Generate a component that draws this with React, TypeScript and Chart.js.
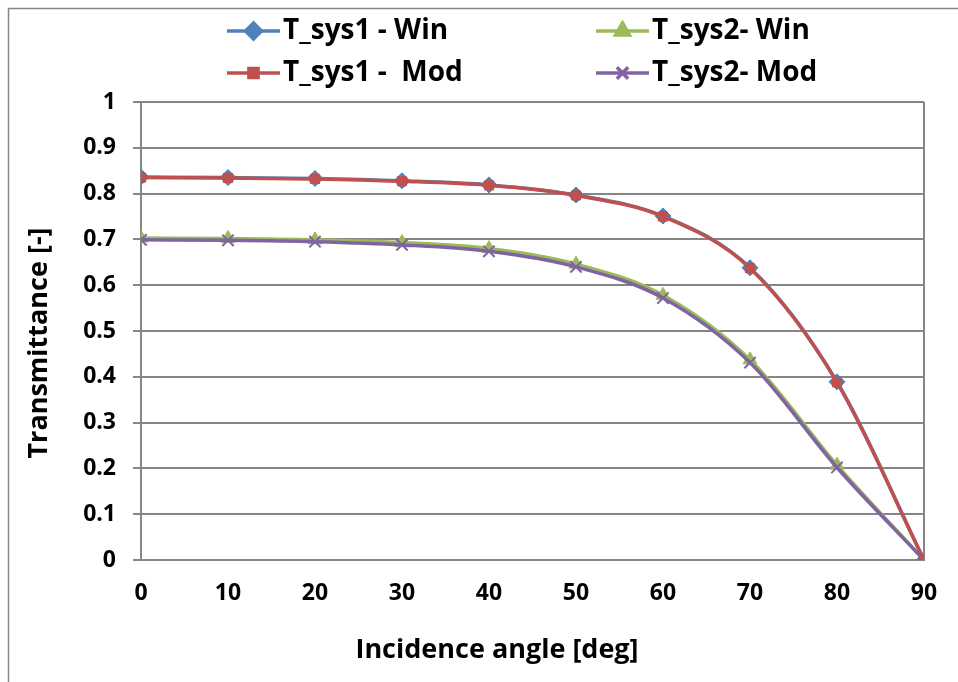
import React, { useEffect, useRef } from 'react';
import { Chart, registerables } from 'chart.js';
import { drawPoint } from 'chart.js/helpers';

Chart.register(...registerables);

const angles = [0, 10, 20, 30, 40, 50, 60, 70, 80, 90];
const sys1Win = [0.836, 0.835, 0.833, 0.828, 0.819, 0.797, 0.751, 0.638, 0.389, 0];
const sys1Mod = [0.835, 0.834, 0.832, 0.827, 0.818, 0.796, 0.750, 0.637, 0.388, 0];
const sys2Win = [0.703, 0.702, 0.699, 0.693, 0.680, 0.646, 0.578, 0.437, 0.207, 0];
const sys2Mod = [0.699, 0.698, 0.695, 0.688, 0.674, 0.640, 0.572, 0.431, 0.202, 0];
const yTickLabels = ['0', '0.1', '0.2', '0.3', '0.4', '0.5', '0.6', '0.7', '0.8', '0.9', '1'];
const seriesNames = ['T_sys1 - Win', 'T_sys2- Win', 'T_sys1 -  Mod', 'T_sys2- Mod'];
const xTitle = 'Incidence angle [deg]';
const yTitle = 'Transmittance [-]';

const FONT = '"Open Sans", Lato, sans-serif';
const GRID = '#868686';

const toPts = (vals: number[]) => angles.map((a, i) => ({ x: a, y: vals[i] }));

const framePlugin = {
  id: 'frame',
  beforeDraw(chart: any) {
    const { ctx } = chart;
    ctx.save();
    ctx.fillStyle = '#ffffff';
    ctx.fillRect(0, 0, chart.width, chart.height);
    ctx.strokeStyle = GRID;
    ctx.lineWidth = 1.5;
    ctx.strokeRect(8.5, 8.5, chart.width + 20, chart.height + 20);
    ctx.restore();
  },
  beforeDatasetsDraw(chart: any) {
    const { ctx, chartArea } = chart;
    ctx.save();
    ctx.strokeStyle = GRID;
    ctx.lineWidth = 2;
    ctx.beginPath();
    ctx.moveTo(chartArea.right, chartArea.top);
    ctx.lineTo(chartArea.right, chartArea.bottom);
    ctx.stroke();
    ctx.restore();
  },
  afterDraw(chart: any) {
    const { ctx } = chart;
    ctx.save();
    ctx.fillStyle = '#000000';
    ctx.font = `bold 27px ${FONT}`;
    ctx.textAlign = 'center';
    ctx.textBaseline = 'middle';
    ctx.fillText(xTitle, 497, 650);
    ctx.translate(39, 343);
    ctx.rotate(-Math.PI / 2);
    ctx.fillText(yTitle, 0, 0);
    ctx.restore();
  },
};

const legendPlugin = {
  id: 'customLegend',
  afterDraw(chart: any) {
    const { ctx } = chart;
    const cols = [227, 596];
    const rows = [31, 73];
    const lineLen = 53;
    ctx.save();
    seriesNames.forEach((name, i) => {
      const ds = chart.data.datasets.find((d: any) => d.label === name);
      if (!ds) return;
      const x = cols[i % 2];
      const y = rows[Math.floor(i / 2)];
      ctx.strokeStyle = ds.borderColor;
      ctx.lineWidth = 3.5;
      ctx.beginPath();
      ctx.moveTo(x, y);
      ctx.lineTo(x + lineLen, y);
      ctx.stroke();
      ctx.fillStyle = ds.pointBackgroundColor;
      ctx.strokeStyle = ds.pointBorderColor;
      drawPoint(ctx, { pointStyle: ds.pointStyle, radius: ds.pointRadius, rotation: 0, borderWidth: ds.pointBorderWidth }, x + lineLen / 2, y);
      ctx.fillStyle = '#000000';
      ctx.font = `bold 28px ${FONT}`;
      ctx.textBaseline = 'middle';
      ctx.textAlign = 'left';
      ctx.fillText(name, x + lineLen + 3, y);
    });
    ctx.restore();
  },
};

function makeDataset(label: string, vals: number[], color: string, style: string, radius: number, order: number) {
  return {
    label,
    data: toPts(vals),
    borderColor: color,
    backgroundColor: color,
    borderWidth: 3.5,
    pointStyle: style,
    pointRadius: radius,
    pointHoverRadius: radius,
    pointBackgroundColor: color,
    pointBorderColor: color,
    pointBorderWidth: style === 'crossRot' ? 2 : 1,
    cubicInterpolationMode: 'monotone',
    fill: false,
    order,
  };
}

export default function App() {
  const ref = useRef<HTMLCanvasElement>(null);
  useEffect(() => {
    if (!ref.current) return;
    const chart = new Chart(ref.current, {
      type: 'line',
      data: {
        datasets: [
          makeDataset(seriesNames[0], sys1Win, '#4f81bd', 'rectRot', 8, 2),
          makeDataset(seriesNames[1], sys2Win, '#9bbb59', 'triangle', 8, 3),
          makeDataset(seriesNames[2], sys1Mod, '#c0504d', 'rect', 6.5, 0),
          makeDataset(seriesNames[3], sys2Mod, '#8064a2', 'crossRot', 8, 1),
        ] as any,
      },
      options: {
        animation: false,
        responsive: false,
        maintainAspectRatio: false,
        layout: { padding: { top: 102, right: 34, left: 0, bottom: 0 } },
        plugins: {
          legend: { display: false },
          tooltip: { enabled: false },
        },
        scales: {
          x: {
            type: 'linear',
            min: 0,
            max: 90,
            afterFit: (s: any) => { s.height = 122; },
            ticks: {
              stepSize: 10,
              color: '#000',
              font: { family: FONT, size: 23, weight: 'bold' },
              padding: 20,
            },
            grid: { display: false, drawTicks: false },
            border: { display: true, color: GRID, width: 2 },
          },
          y: {
            min: 0,
            max: 1,
            afterFit: (s: any) => { s.width = 141; },
            ticks: {
              stepSize: 0.1,
              color: '#000',
              font: { family: FONT, size: 23, weight: 'bold' },
              padding: 17,
              callback: (_v: any, i: number) => yTickLabels[i],
            },
            grid: { color: GRID, lineWidth: 2, tickLength: 8, drawTicks: true },
            border: { display: true, color: GRID, width: 2 },
          },
        },
      } as any,
      plugins: [framePlugin, legendPlugin],
    });
    return () => chart.destroy();
  }, []);
  return (
    <div style={{ position: 'absolute', left: 0, top: 0, width: 958, height: 682 }}>
      <canvas ref={ref} width={958} height={682} style={{ display: 'block' }} />
    </div>
  );
}
